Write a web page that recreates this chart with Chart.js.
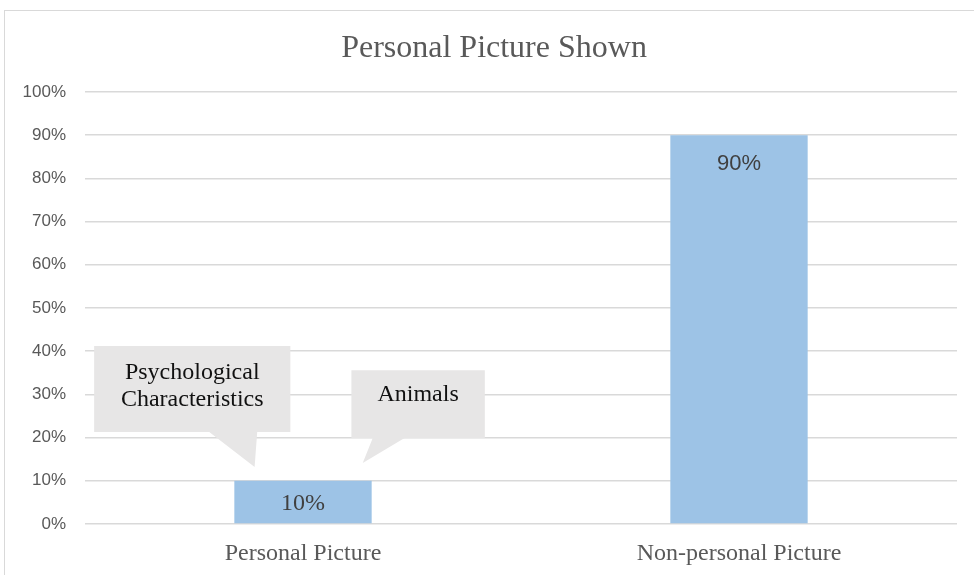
<!DOCTYPE html>
<html>
<head>
<meta charset="utf-8">
<script src="https://cdn.jsdelivr.net/npm/chart.js@4.4.1/dist/chart.umd.min.js"></script>
<style>
  html, body { margin: 0; padding: 0; background: #fff; overflow: hidden; }
  body { width: 974px; height: 575px; position: relative; }
  #frame {
    position: absolute; left: 4px; top: 10px;
    width: 980px; height: 580px;
    border-left: 1px solid #d9d9d9; border-top: 1px solid #d9d9d9;
  }
  #chart { display: block; }
</style>
</head>
<body>
<div id="frame"><canvas id="chart" width="980" height="580"></canvas></div>
<script>
  (() => {
    const title = 'Personal Picture Shown'
    const categories = ['Personal Picture', 'Non-personal Picture']
    const shares = [0.10, 0.90]
    const yTicks = [0, 0.1, 0.2, 0.3, 0.4, 0.5, 0.6, 0.7, 0.8, 0.9, 1.0]
    const calloutTexts = [['Psychological', 'Characteristics'], ['Animals']]

    const serif = '"Liberation Serif", "DejaVu Serif", serif'
    const sans = '"Liberation Sans", Arial, sans-serif'
    const pct = v => Math.round(v * 100) + '%'

    // centre the title over the frame rather than the full canvas
    const titleShift = {
      id: 'titleShift',
      afterLayout(chart) {
        if (chart.titleBlock) chart.titleBlock.left = 26
      }
    }

    // value labels inside the top of each bar
    const barLabels = {
      id: 'barLabels',
      afterDatasetsDraw(chart) {
        const { ctx } = chart
        const fonts = ['24px ' + serif, '22px ' + sans]
        const offs = [23, 29]
        chart.getDatasetMeta(0).data.forEach((bar, i) => {
          ctx.save()
          ctx.font = fonts[i]
          ctx.fillStyle = '#404040'
          ctx.textAlign = 'center'
          ctx.textBaseline = 'middle'
          ctx.fillText(pct(shares[i]), bar.x, bar.y + offs[i])
          ctx.restore()
        })
      }
    }

    // speech-bubble callouts above the first bar
    const callouts = {
      id: 'callouts',
      afterDatasetsDraw(chart) {
        const { ctx } = chart
        const x = chart.scales.x, y = chart.scales.y
        const pitch = x.getPixelForValue(1) - x.getPixelForValue(0)
        const px = f => x.getPixelForValue(0) + f * pitch
        const py = v => y.getPixelForValue(v)
        const shapes = [
          { l: -0.479, r: -0.029, t: 0.412, b: 0.213, b1: -0.215, b2: -0.105, tx: -0.111, ty: 0.132, first: 27 },
          { l: 0.111, r: 0.417, t: 0.356, b: 0.199, b1: 0.16, b2: 0.233, tx: 0.137, ty: 0.141, first: 24 }
        ]
        shapes.forEach((s, i) => {
          const L = px(s.l), R = px(s.r), T = py(s.t), B = py(s.b)
          ctx.save()
          ctx.fillStyle = '#e7e6e6'
          ctx.beginPath()
          ctx.moveTo(L, T)
          ctx.lineTo(R, T)
          ctx.lineTo(R, B)
          ctx.lineTo(px(s.b2), B)
          ctx.lineTo(px(s.tx), py(s.ty))
          ctx.lineTo(px(s.b1), B)
          ctx.lineTo(L, B)
          ctx.closePath()
          ctx.fill()
          ctx.font = '24px ' + serif
          ctx.fillStyle = '#111'
          ctx.textAlign = 'center'
          ctx.textBaseline = 'middle'
          calloutTexts[i].forEach((line, j) => {
            ctx.fillText(line, (L + R) / 2, T + s.first + j * 27)
          })
          ctx.restore()
        })
      }
    }

    new Chart(document.getElementById('chart'), {
      type: 'bar',
      data: {
        labels: categories,
        datasets: [{
          label: title,
          data: shares,
          backgroundColor: '#9dc3e6',
          barPercentage: 0.315,
          categoryPercentage: 1
        }]
      },
      options: {
        responsive: false,
        animation: false,
        layout: { padding: { left: 0, right: 28, top: 0, bottom: 16 } },
        plugins: {
          legend: { display: false },
          tooltip: { enabled: false },
          title: {
            display: true,
            text: title,
            color: '#595959',
            font: { family: serif, size: 32, weight: 'normal', lineHeight: 1.2 },
            padding: { top: 18, bottom: 24.6 }
          }
        },
        scales: {
          x: {
            grid: { display: false },
            border: { display: false },
            ticks: {
              color: '#595959',
              font: { family: serif, size: 24 },
              padding: 7,
              maxRotation: 0
            },
            afterFit(scale) { scale.height = 51 }
          },
          y: {
            min: 0,
            max: 1,
            afterBuildTicks(scale) { scale.ticks = yTicks.map(v => ({ value: v })) },
            grid: { color: '#d9d9d9', lineWidth: 1.5, drawTicks: false },
            border: { display: false },
            ticks: {
              color: '#595959',
              font: { family: sans, size: 17 },
              padding: 19,
              callback: v => pct(v)
            },
            afterFit(scale) { scale.width = 80 }
          }
        }
      },
      plugins: [titleShift, barLabels, callouts]
    })
  })()
</script>
</body>
</html>
